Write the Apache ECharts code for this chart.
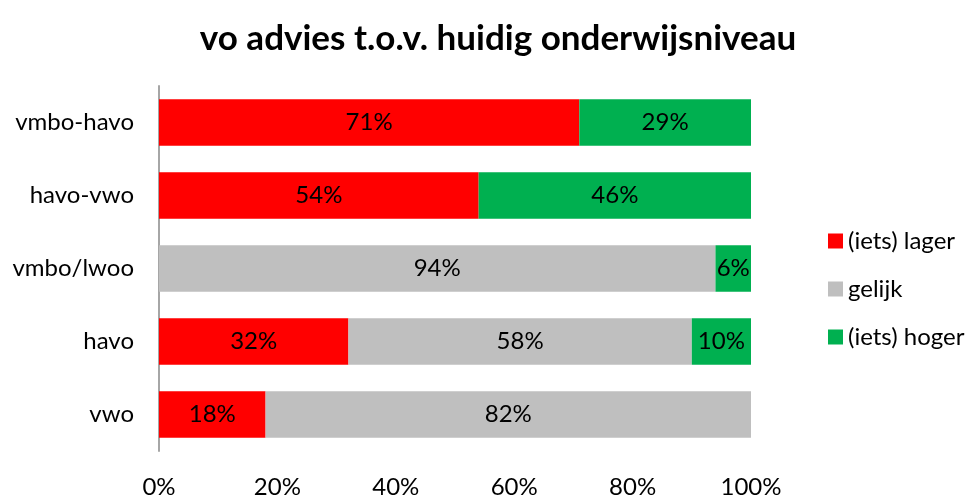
<!DOCTYPE html>
<html>
<head>
<meta charset="utf-8">
<script src="https://cdn.jsdelivr.net/npm/echarts@6/dist/echarts.min.js"></script>
<style>
  html, body { margin: 0; padding: 0; background: #fff; }
  #chart { width: 969px; height: 499px; }
</style>
</head>
<body>
<div id="chart"></div>
<script>
// categories, bottom to top (echarts category y axis starts at the bottom)
const categories = ['vwo', 'havo', 'vmbo/lwoo', 'havo-vwo', 'vmbo-havo']
const lager = [18, 32, 0, 54, 71]
const gelijk = [82, 58, 94, 0, 0]
const hoger = [0, 10, 6, 46, 29]
const tickLabels = ['0%', '20%', '40%', '60%', '80%', '100%']

const font = 'Lato, "Open Sans", sans-serif'

function makeSeries (name, data, color) {
  return {
    name: name,
    type: 'bar',
    stack: 'total',
    barCategoryGap: '36%',
    data: data,
    itemStyle: { color: color },
    label: {
      show: true,
      position: 'inside',
      color: '#000',
      fontSize: 24,
      fontFamily: font,
      formatter: p => (p.value ? p.value + '%' : '')
    }
  }
}

const dom = echarts.init(document.getElementById('chart'))
dom.setOption({
  animation: false,
  title: {
    text: 'vo advies t.o.v. huidig onderwijsniveau',
    left: 493,
    textAlign: 'center',
    top: 16,
    textStyle: { fontSize: 35, fontWeight: 'bold', color: '#000', fontFamily: font }
  },
  legend: {
    orient: 'vertical',
    left: 823,
    top: 224,
    itemWidth: 15,
    itemHeight: 15,
    itemGap: 24,
    icon: 'rect',
    textStyle: { fontSize: 24, color: '#000', fontFamily: font },
    data: ['(iets) lager', 'gelijk', '(iets) hoger']
  },
  grid: { left: 159, right: 218, top: 86, bottom: 45 },
  xAxis: {
    type: 'value',
    min: 0,
    max: 100,
    interval: 20,
    axisLine: { show: false },
    axisTick: { show: false },
    splitLine: { show: false },
    axisLabel: {
      fontSize: 24,
      color: '#000',
      fontFamily: font,
      margin: 24,
      formatter: v => tickLabels[v / 20]
    }
  },
  yAxis: {
    type: 'category',
    data: categories,
    axisLine: { lineStyle: { color: '#a6a6a6', width: 2 } },
    axisTick: { show: false },
    axisLabel: { fontSize: 24, color: '#000', fontFamily: font, margin: 25 }
  },
  series: [
    makeSeries('(iets) lager', lager, '#ff0000'),
    makeSeries('gelijk', gelijk, '#bfbfbf'),
    makeSeries('(iets) hoger', hoger, '#00b050')
  ]
})
</script>
</body>
</html>
